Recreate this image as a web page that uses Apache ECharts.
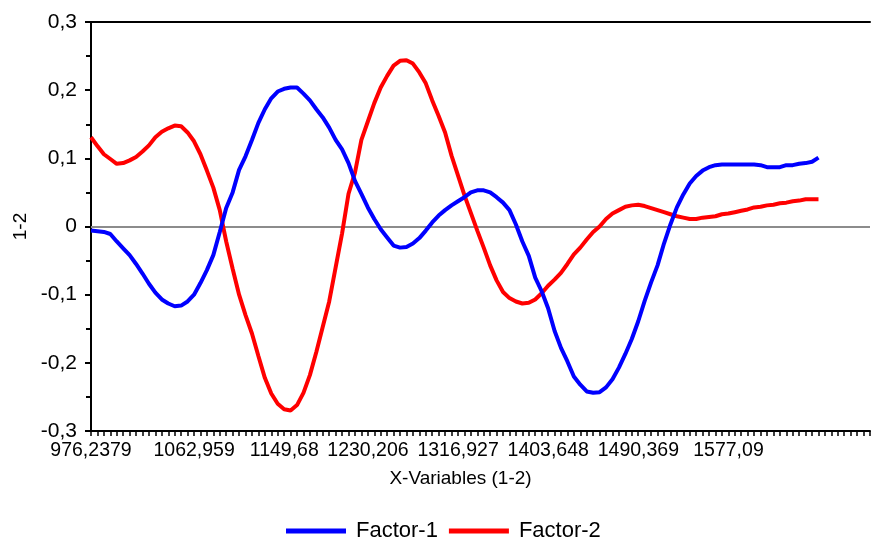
<!DOCTYPE html>
<html>
<head>
<meta charset="utf-8">
<script src="https://cdn.jsdelivr.net/npm/echarts@6/dist/echarts.min.js"></script>
<style>
html,body{margin:0;padding:0;background:#fff;}
#chart{width:871px;height:540px;}
</style>
</head>
<body>
<div id="chart"></div>
<script>
// Factor loadings (one value per x-variable)
const factor1 = [
-0.006,-0.007,-0.008,-0.011,-0.022,-0.032,-0.042,-0.055,-0.069,-0.084,
-0.097,-0.107,-0.113,-0.117,-0.116,-0.110,-0.100,-0.083,-0.064,-0.042,
-0.008,0.027,0.050,0.083,0.103,0.127,0.152,0.172,0.188,0.198,
0.202,0.204,0.204,0.195,0.185,0.172,0.160,0.145,0.127,0.113,
0.093,0.067,0.048,0.028,0.011,-0.004,-0.016,-0.028,-0.031,-0.030,
-0.025,-0.017,-0.006,0.006,0.016,0.024,0.031,0.037,0.043,0.050,
0.053,0.053,0.050,0.043,0.035,0.024,0.003,-0.022,-0.043,-0.075,
-0.095,-0.120,-0.153,-0.178,-0.198,-0.220,-0.232,-0.242,-0.244,-0.243,
-0.236,-0.224,-0.207,-0.187,-0.165,-0.139,-0.109,-0.082,-0.057,-0.025,
0.003,0.028,0.047,0.063,0.074,0.082,0.087,0.090,0.091,0.091,
0.091,0.091,0.091,0.091,0.090,0.087,0.087,0.087,0.090,0.090,
0.092,0.093,0.095,0.101
];
const factor2 = [
0.131,0.118,0.106,0.099,0.092,0.093,0.097,0.102,0.110,0.119,
0.131,0.139,0.144,0.148,0.147,0.138,0.125,0.106,0.082,0.057,
0.024,-0.022,-0.062,-0.100,-0.130,-0.157,-0.190,-0.222,-0.245,-0.260,
-0.268,-0.270,-0.262,-0.244,-0.218,-0.184,-0.147,-0.110,-0.060,-0.010,
0.048,0.079,0.127,0.154,0.181,0.204,0.221,0.236,0.243,0.244,
0.239,0.226,0.210,0.185,0.162,0.138,0.104,0.075,0.046,0.020,
-0.006,-0.031,-0.057,-0.079,-0.096,-0.105,-0.110,-0.113,-0.112,-0.107,
-0.098,-0.087,-0.078,-0.068,-0.055,-0.041,-0.031,-0.019,-0.008,0.000,
0.011,0.019,0.024,0.029,0.031,0.032,0.030,0.027,0.024,0.021,
0.018,0.015,0.013,0.011,0.011,0.013,0.014,0.015,0.018,0.019,
0.021,0.023,0.025,0.028,0.029,0.031,0.032,0.034,0.035,0.037,
0.038,0.040,0.040,0.040
];
// x-axis tick labels and the variable index they sit on
const tickIndex  = [0, 14, 28, 41, 55, 69, 83, 97];
const tickLabels = ['976,2379','1062,959','1149,68','1230,206','1316,927','1403,648','1490,369','1577,09'];
const seriesNames = ['Factor-1','Factor-2'];
const axisCount = 122; // variable slots along the axis (data fill the first ones)

const categories = [];
for (let i = 0; i < axisCount; i++) categories.push(String(i));

const FONT = "'Liberation Sans', Arial, sans-serif";
const chart = echarts.init(document.getElementById('chart'), null, {renderer:'canvas'});
chart.setOption({
  animation:false,
  backgroundColor:'#fff',
  textStyle:{fontFamily:FONT},
  grid:{left:91, right:1, top:22, bottom:109, containLabel:false},
  legend:{
    data:seriesNames, left:286, top:520, padding:0, itemGap:11,
    icon:'rect', itemWidth:60, itemHeight:5,
    textStyle:{fontFamily:FONT, fontSize:22, color:'#000', padding:[0,0,0,5]}
  },
  xAxis:[{
    type:'category', data:categories, boundaryGap:false, position:'bottom',
    name:'X-Variables (1-2)', nameLocation:'middle', nameGap:38,
    nameTextStyle:{fontFamily:FONT, fontSize:19, color:'#000', padding:[0,40,0,0]},
    axisLine:{show:true, onZero:false, lineStyle:{color:'#000', width:2}},
    axisTick:{show:true, inside:false, length:5, interval:0, lineStyle:{color:'#000', width:1.5}},
    axisLabel:{
      interval:(i)=> tickIndex.indexOf(i) >= 0,
      margin:10, color:'#000', fontFamily:FONT, fontSize:19.5,
      formatter:(v, idx)=>{
        const k = tickIndex.indexOf(Number(v));
        if (k < 0) return '';
        return k === 0 ? '{f|' + tickLabels[k] + '}' : '{o|' + tickLabels[k] + '}';
      },
      rich:{
        f:{fontFamily:FONT, fontSize:19.5, color:'#000'},
        o:{fontFamily:FONT, fontSize:19.5, color:'#000', padding:[0,0,0,26]}
      }
    },
    splitLine:{show:false}
  },{
    type:'category', data:categories, boundaryGap:false, position:'top',
    axisLine:{show:true, onZero:false, lineStyle:{color:'#000', width:2}},
    axisTick:{show:false}, axisLabel:{show:false}, splitLine:{show:false}
  }],
  yAxis:{
    type:'value', min:-0.3, max:0.3, interval:0.1,
    name:'1-2', nameLocation:'middle', nameGap:58,
    nameTextStyle:{fontFamily:FONT, fontSize:19, color:'#000'},
    axisLine:{show:true, lineStyle:{color:'#000', width:2}},
    axisTick:{show:true, length:6, lineStyle:{color:'#000', width:2}},
    minorTick:{show:true, splitNumber:2, length:5, lineStyle:{color:'#000', width:2}},
    axisLabel:{margin:14, color:'#000', fontFamily:FONT, fontSize:21,
      formatter:(v)=> (Math.round(v*10)/10).toString().replace('.', ',')},
    splitLine:{show:false}
  },
  series:[{
    name:seriesNames[0], type:'line', data:factor1, showSymbol:false, symbol:'none',
    lineStyle:{color:'#0000ff', width:4}, itemStyle:{color:'#0000ff'}, z:3,
    markLine:{silent:true, symbol:'none', label:{show:false},
      lineStyle:{color:'#8c8c8c', width:2, type:'solid'}, data:[{yAxis:0}], z:1}
  },{
    name:seriesNames[1], type:'line', data:factor2, showSymbol:false, symbol:'none',
    lineStyle:{color:'#ff0000', width:4}, itemStyle:{color:'#ff0000'}, z:2
  }]
});
</script>
</body>
</html>
